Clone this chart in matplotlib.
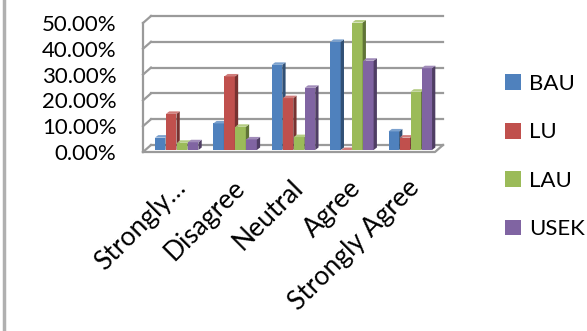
import matplotlib
matplotlib.use("Agg")
import matplotlib.pyplot as plt
from matplotlib.patches import Rectangle, Polygon, Patch
from matplotlib.lines import Line2D
from matplotlib.colors import to_rgb

plt.rcParams['font.family'] = ['Lato', 'DejaVu Sans']

# survey answers per university, in percent
categories = ["Strongly…", "Disagree", "Neutral", "Agree", "Strongly Agree"]
BAU = [4.8, 10.3, 33.0, 41.9, 7.2]
LU = [14.0, 28.5, 20.1, 0.0, 4.8]
LAU = [2.8, 9.0, 5.0, 49.4, 22.6]
USEK = [3.0, 4.1, 24.1, 34.6, 31.7]
series = [("BAU", BAU, "#4F81BD"), ("LU", LU, "#C0504D"),
          ("LAU", LAU, "#9BBB59"), ("USEK", USEK, "#8064A2")]
yticks = [0, 10, 20, 30, 40, 50]

W, H = 587, 331
fig = plt.figure(figsize=(W / 100, H / 100), dpi=100)
# axes = front plane of the 3d box
x0, x1, y0, y1 = 143, 435, 152, 23
ax = fig.add_axes([x0 / W, 1 - y0 / H, (x1 - x0) / W, (y0 - y1) / H])
ax.set_xlim(-0.5, 4.5)
ax.set_ylim(0, 50)
for s in ax.spines.values():
    s.set_visible(False)

pxx = 5 / (x1 - x0)      # data units per pixel
pxy = 50 / (y0 - y1)

# depth of the box
wdx, wdy = 8 * pxx, 7 * pxy
grid_c = "#9a9a9a"
for v in yticks:
    ax.plot([-0.5 + wdx, 4.5 + wdx], [v + wdy, v + wdy], color=grid_c, lw=1.6, clip_on=False, zorder=1)
    ax.plot([-0.5, -0.5 + wdx], [v, v + wdy], color=grid_c, lw=1.6, clip_on=False, zorder=1)
ax.plot([-0.5, -0.5], [0, 50], color=grid_c, lw=1.6, clip_on=False, zorder=1)
# floor
ax.plot([-0.5, 4.5, 4.5 + wdx], [0, 0, wdy], color=grid_c, lw=1.6, clip_on=False, zorder=1)

# bars
bw = 0.18
step = 0.188
base = 2 * pxy
bdx, bdy = 3.3 * pxx, 2.5 * pxy


def shade(c, f):
    r, g, b = to_rgb(c)
    if f < 1:
        return (r * f, g * f, b * f)
    t = f - 1
    return (r + (1 - r) * t, g + (1 - g) * t, b + (1 - b) * t)


z = 2
for i in range(len(categories)):
    for k, (name, vals, col) in enumerate(series):
        v = vals[i]
        xl = i - 0.295 + k * step
        top = base + v
        ax.add_patch(Rectangle((xl, base), bw, v, facecolor=col, edgecolor="none",
                               clip_on=False, zorder=z))
        ax.add_patch(Polygon([(xl + bw, base), (xl + bw + bdx, base + bdy),
                              (xl + bw + bdx, top + bdy), (xl + bw, top)],
                             facecolor=shade(col, 0.62), edgecolor="none", clip_on=False, zorder=z))
        ax.add_patch(Polygon([(xl, top), (xl + bdx, top + bdy), (xl + bw + bdx, top + bdy),
                              (xl + bw, top)],
                             facecolor=shade(col, 1.25), edgecolor="none", clip_on=False, zorder=z))
        z += 1

fs = 16
ax.set_yticks(yticks)
ax.set_yticklabels([f"{t:.2f}%" for t in yticks], fontsize=fs)
ax.tick_params(axis="y", length=0, pad=19)
ax.set_xticks([])

for i, lab in enumerate(categories):
    ax.text(i + 0.02, -9.0, lab, rotation=45, ha="right", va="top",
            rotation_mode="anchor", fontsize=19)

handles = [Patch(facecolor=c, edgecolor="none") for _, _, c in series]
fig.legend(handles, [n for n, _, _ in series], loc="upper left",
           bbox_to_anchor=(505 / W, 1 - 74 / H), frameon=False, fontsize=16,
           handlelength=0.72, handleheight=0.72, handletextpad=0.38,
           labelspacing=1.28, borderpad=0, borderaxespad=0)

# frame edge on the left
fig.add_artist(Line2D([3.5 / W, 3.5 / W], [0, 1], color="#b0b0b0", lw=2.5))

fig.savefig("out.png", dpi=100)
